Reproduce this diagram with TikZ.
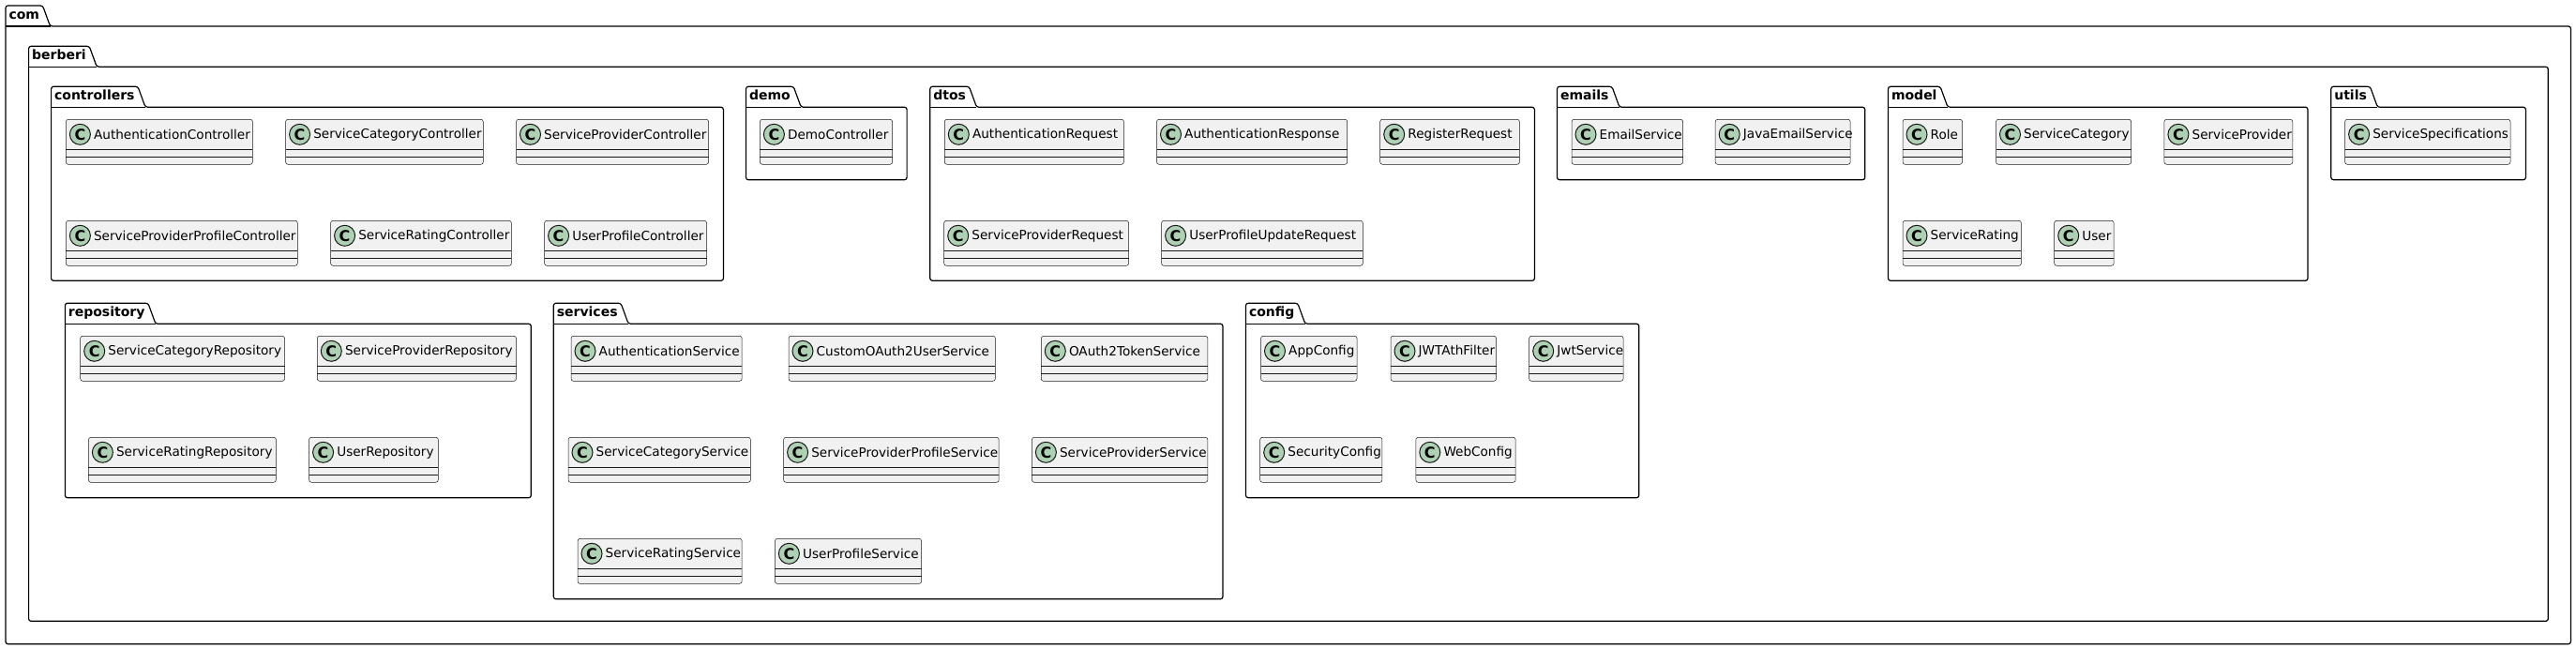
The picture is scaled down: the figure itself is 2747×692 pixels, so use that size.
\documentclass[tikz,border=0pt]{standalone}
\usepackage{fontspec}
\setmainfont{DejaVu Sans}
\usepackage{tikz}

\definecolor{classfill}{HTML}{F1F1F1}
\definecolor{classdraw}{HTML}{181818}
\definecolor{iconfill}{HTML}{ADD1B2}

\tikzset{
	pkgline/.style={draw=black,line width=1.2pt,rounded corners=2.5pt},
	pkglabel/.style={anchor=north west,inner xsep=3.5pt,inner ysep=0pt,outer sep=0pt,minimum height=22pt,
		text height=10pt,text depth=3pt,font=\fontsize{14}{16}\selectfont\bfseries},
	classbox/.style={anchor=north west,draw=classdraw,fill=classfill,line width=0.5pt,rounded corners=2.5pt,
		inner sep=0pt,outer sep=0pt,minimum height=48pt},
	classline/.style={draw=classdraw,line width=0.5pt},
	classicon/.style={circle,draw=classdraw,fill=iconfill,line width=1pt,inner sep=0pt,minimum size=22pt,
		font=\fontsize{16}{16}\selectfont\bfseries},
	classname/.style={anchor=west,inner sep=0pt,font=\fontsize{13.6}{16}\selectfont}
}

% package: name, label, left, top, right, bottom
\newcommand{\umlpackage}[6]{%
	\draw (#3,#4) node (#1) [pkglabel] {#2};
	\draw[pkgline] (#3,#6) -- (#3,#4) -- (#1.north east) -- ([xshift=8pt]#1.south east) -- (#5,#4+22) -- (#5,#6) -- cycle;
	\draw[pkgline] (#1.south west) -- ([xshift=8pt]#1.south east);
}

% class: name, label, left, top, right
\newcommand{\umlclass}[5]{%
	\draw (#3,#4) node (#1) [classbox,minimum width=#5-#3] {};
	\draw[classline] ([yshift=-32pt]#1.north west) -- ([yshift=-32pt]#1.north east)
		([yshift=-40pt]#1.north west) -- ([yshift=-40pt]#1.north east);
	\draw ([xshift=15pt,yshift=-16pt]#1.north west) node (#1-c) [classicon] {C};
	\draw ([xshift=29.5pt,yshift=-16pt]#1.north west) node (#1-t) [classname] {#2};
}

\begin{document}
\begin{tikzpicture}[x=1pt,y=-1pt]
	\useasboundingbox (0,0) rectangle (2747,692);

	% packages
	\umlpackage{com}{com}{6}{6}{2741.4}{686.7}
	\umlpackage{berberi}{berberi}{30.6}{49.3}{2717.3}{662.3}
	\umlpackage{controllers}{controllers}{54.6}{92.3}{771.4}{299.3}
	\umlpackage{demo}{demo}{795.5}{92.3}{967.1}{191.7}
	\umlpackage{dtos}{dtos}{991.8}{92.3}{1636.4}{299.3}
	\umlpackage{emails}{emails}{1660.5}{92.3}{1988.8}{191.7}
	\umlpackage{model}{model}{2013.5}{92.3}{2461}{299.3}
	\umlpackage{utils}{utils}{2485.8}{92.3}{2693.4}{191.7}
	\umlpackage{repository}{repository}{69.4}{323.3}{566.3}{530.7}
	\umlpackage{services}{services}{590.3}{323.3}{1304}{638.7}
	\umlpackage{config}{config}{1328.5}{323.3}{1747.8}{530.7}

	% controllers
	\umlclass{AuthenticationController}{AuthenticationController}{70.4}{127.3}{269.4}
	\umlclass{ServiceCategoryController}{ServiceCategoryController}{304.6}{127.3}{515.3}
	\umlclass{ServiceProviderController}{ServiceProviderController}{550.5}{127.3}{755.6}
	\umlclass{ServiceProviderProfileController}{ServiceProviderProfileController}{70.4}{235.3}{317.3}
	\umlclass{ServiceRatingController}{ServiceRatingController}{352.6}{235.3}{545.4}
	\umlclass{UserProfileController}{UserProfileController}{580.6}{235.3}{753.6}

	% demo
	\umlclass{DemoController}{DemoController}{810.4}{127.3}{951.6}

	% dtos
	\umlclass{AuthenticationRequest}{AuthenticationRequest}{1007.3}{127.3}{1198.4}
	\umlclass{AuthenticationResponse}{AuthenticationResponse}{1233.5}{127.3}{1436.7}
	\umlclass{RegisterRequest}{RegisterRequest}{1471.7}{127.3}{1620.4}
	\umlclass{ServiceProviderRequest}{ServiceProviderRequest}{1006.7}{235.3}{1203.6}
	\umlclass{UserProfileUpdateRequest}{UserProfileUpdateRequest}{1238.6}{235.3}{1453.3}

	% emails
	\umlclass{EmailService}{EmailService}{1676}{127.3}{1794.6}
	\umlclass{JavaEmailService}{JavaEmailService}{1829.2}{127.3}{1973.2}

	% model
	\umlclass{Role}{Role}{2029}{127.3}{2092.5}
	\umlclass{ServiceCategory}{ServiceCategory}{2128.5}{127.3}{2272.6}
	\umlclass{ServiceProvider}{ServiceProvider}{2307.9}{127.3}{2444.8}
	\umlclass{ServiceRating}{ServiceRating}{2029}{235.3}{2155.4}
	\umlclass{User}{User}{2190.7}{235.3}{2254.2}

	% utils
	\umlclass{ServiceSpecifications}{ServiceSpecifications}{2500.6}{127.3}{2677}

	% repository
	\umlclass{ServiceCategoryRepository}{ServiceCategoryRepository}{85.7}{358.3}{303.6}
	\umlclass{ServiceProviderRepository}{ServiceProviderRepository}{338.3}{358.3}{550.5}
	\umlclass{ServiceRatingRepository}{ServiceRatingRepository}{94.4}{466.3}{294.4}
	\umlclass{UserRepository}{UserRepository}{329.6}{466.3}{467.3}

	% services
	\umlclass{AuthenticationService}{AuthenticationService}{609}{358.3}{791.2}
	\umlclass{CustomOAuth2UserService}{CustomOAuth2UserService}{841}{358.3}{1061.4}
	\umlclass{OAuth2TokenService}{OAuth2TokenService}{1110.3}{358.3}{1287.9}
	\umlclass{ServiceCategoryService}{ServiceCategoryService}{606}{466.3}{800.4}
	\umlclass{ServiceProviderProfileService}{ServiceProviderProfileService}{835.6}{466.3}{1065.2}
	\umlclass{ServiceProviderService}{ServiceProviderService}{1100.4}{466.3}{1287.9}
	\umlclass{ServiceRatingService}{ServiceRatingService}{616}{574.3}{791.2}
	\umlclass{UserProfileService}{UserProfileService}{826.4}{574.3}{982.6}

	% config
	\umlclass{AppConfig}{AppConfig}{1344.5}{358.3}{1447}
	\umlclass{JWTAthFilter}{JWTAthFilter}{1483}{358.3}{1595.6}
	\umlclass{JwtService}{JwtService}{1630.7}{358.3}{1731}
	\umlclass{SecurityConfig}{SecurityConfig}{1343.7}{466.3}{1473.9}
	\umlclass{WebConfig}{WebConfig}{1509.8}{466.3}{1616.2}
\end{tikzpicture}
\end{document}
